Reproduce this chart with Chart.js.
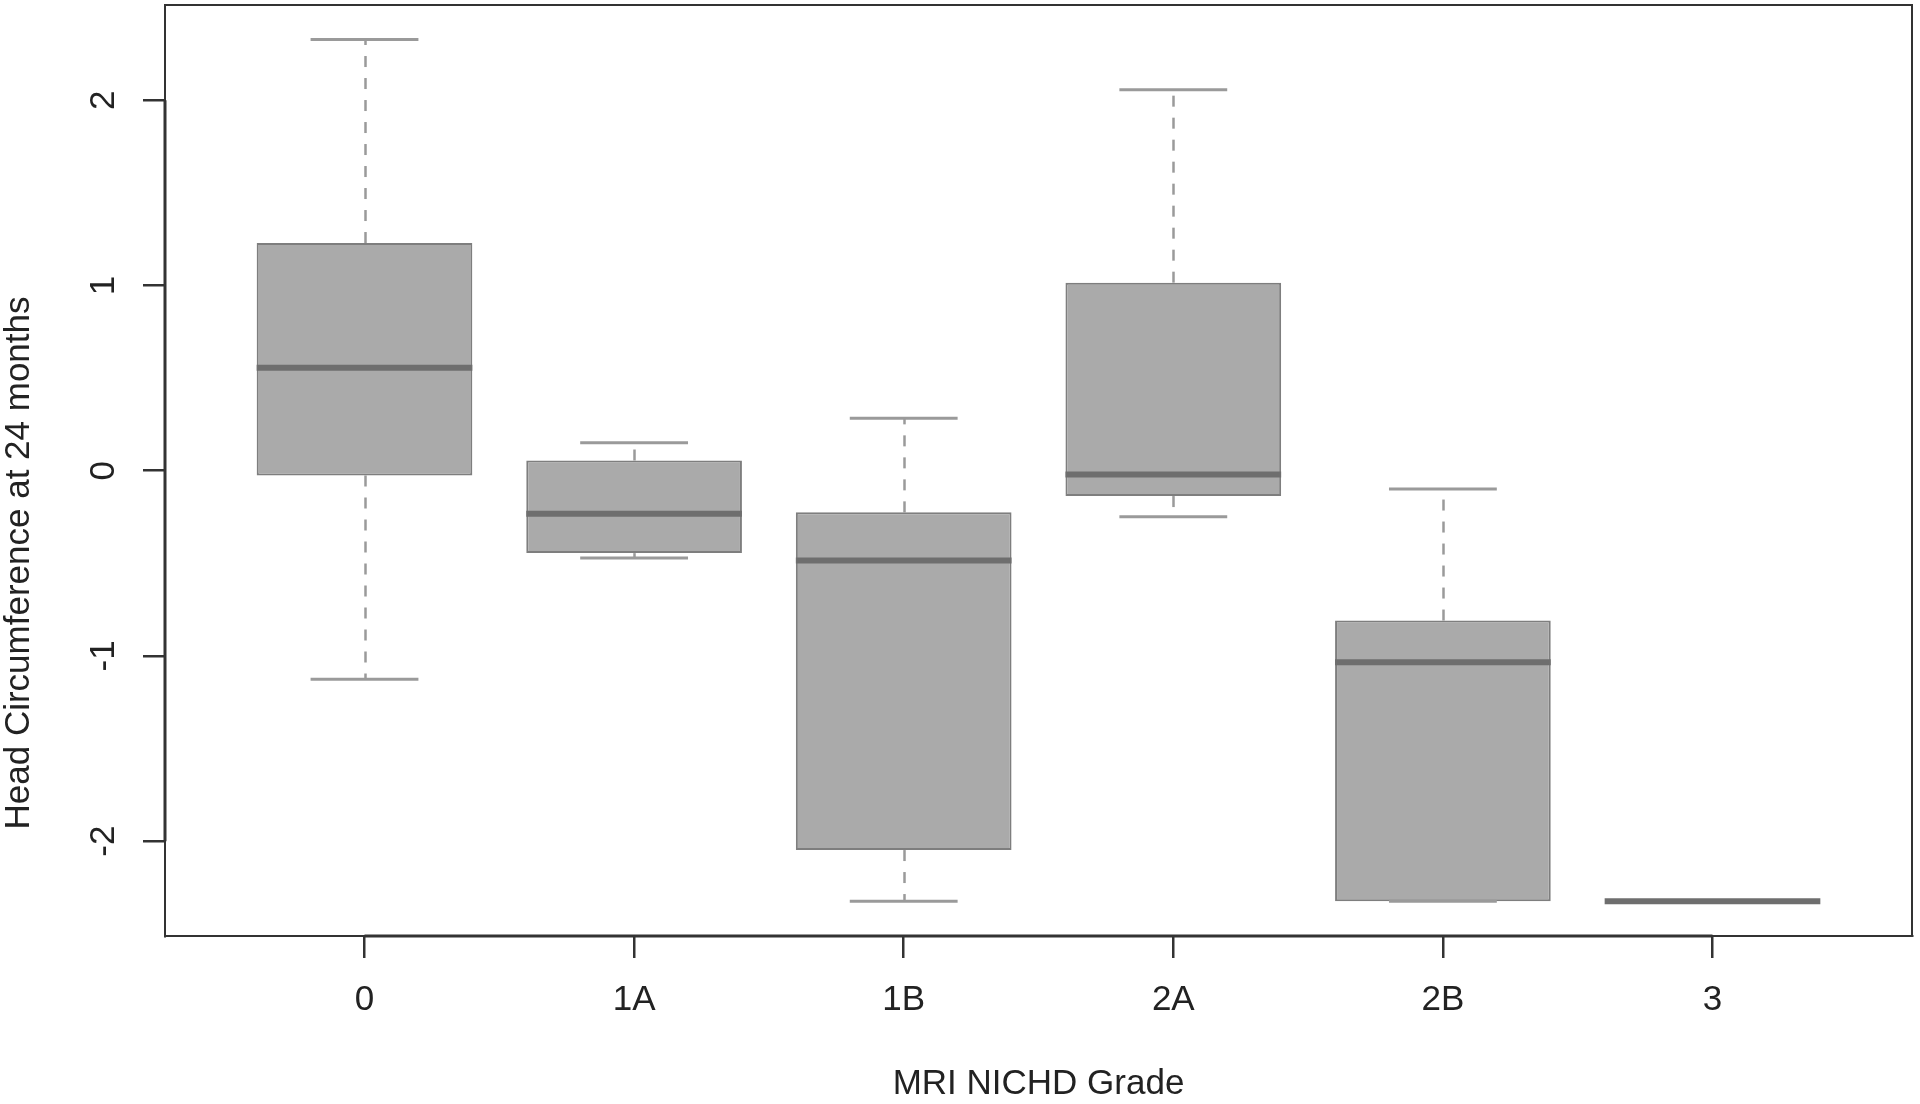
<!DOCTYPE html>
<html>
<head>
<meta charset="utf-8">
<script src="https://cdn.jsdelivr.net/npm/chart.js@4.4.1/dist/chart.umd.min.js"></script>
<style>
html,body{margin:0;padding:0;background:#fff;}
#wrap{width:1920px;height:1104px;position:relative;background:#fff;}
canvas{display:block;}
</style>
</head>
<body>
<div id="wrap"><canvas id="c" width="1920" height="1104"></canvas></div>
<script>
// ---- data ----
const categories  = ['0', '1A', '1B', '2A', '2B', '3'];
const whiskerLow  = [-1.126, -0.472, -2.325, -0.249, -2.325, -2.325];
const q1          = [-0.026, -0.445, -2.048, -0.137, -2.325, -2.325];
const median      = [ 0.556, -0.233, -0.485, -0.020, -1.034, -2.325];
const q3          = [ 1.229,  0.055, -0.225,  1.015, -0.809, -2.325];
const whiskerHigh = [ 2.328,  0.151,  0.283,  2.056, -0.099, -2.325];
const yTicks = [-2, -1, 0, 1, 2];
const yMin = -2.512, yMax = 2.514;
const xMin = 0.26, xMax = 6.74;
const xTitle = 'MRI NICHD Grade';
const yTitle = 'Head Circumference at 24 months';

const FONT = '"Liberation Sans", Arial, Helvetica, sans-serif';
const TEXT = '#222222';
const AXIS = '#333333';

const boxParts = {
  id: 'boxParts',
  beforeDatasetsDraw(chart) {
    const {ctx, scales: {x, y}} = chart;
    ctx.save();
    ctx.strokeStyle = '#9a9a9a';
    ctx.lineWidth = 2.5;
    ctx.setLineDash([11, 11]);
    categories.forEach((c, i) => {
      const px = Math.round(x.getPixelForValue(i + 1)) + 0.5;
      if (whiskerHigh[i] > q3[i]) {
        ctx.beginPath();
        ctx.moveTo(px, y.getPixelForValue(q3[i]));
        ctx.lineTo(px, y.getPixelForValue(whiskerHigh[i]));
        ctx.stroke();
      }
      if (whiskerLow[i] < q1[i]) {
        ctx.beginPath();
        ctx.moveTo(px, y.getPixelForValue(q1[i]));
        ctx.lineTo(px, y.getPixelForValue(whiskerLow[i]));
        ctx.stroke();
      }
    });
    ctx.restore();
  },
  afterDatasetsDraw(chart) {
    const {ctx, scales: {x, y}, chartArea} = chart;
    const meta = chart.getDatasetMeta(0);
    ctx.save();
    categories.forEach((c, i) => {
      const px = x.getPixelForValue(i + 1);
      const w = meta.data[i].width;
      // caps
      if (whiskerHigh[i] !== whiskerLow[i]) {
        ctx.strokeStyle = '#9a9a9a';
        ctx.lineWidth = 3;
        ctx.setLineDash([]);
        [whiskerHigh[i], whiskerLow[i]].forEach(v => {
          const py = y.getPixelForValue(v);
          ctx.beginPath();
          ctx.moveTo(px - w / 4, py);
          ctx.lineTo(px + w / 4, py);
          ctx.stroke();
        });
      }
      // median
      ctx.strokeStyle = '#6e6e6e';
      ctx.lineWidth = 6;
      const pm = y.getPixelForValue(median[i]);
      ctx.beginPath();
      ctx.moveTo(px - w / 2, pm);
      ctx.lineTo(px + w / 2, pm);
      ctx.stroke();
    });
    // frame
    ctx.strokeStyle = AXIS;
    ctx.lineWidth = 2;
    ctx.strokeRect(chartArea.left, chartArea.top, chartArea.right - chartArea.left, chartArea.bottom - chartArea.top);
    // R-style axis lines between first and last tick
    ctx.lineWidth = 3;
    ctx.beginPath();
    ctx.moveTo(x.getPixelForValue(1), chartArea.bottom);
    ctx.lineTo(x.getPixelForValue(categories.length), chartArea.bottom);
    ctx.moveTo(chartArea.left, y.getPixelForValue(yTicks[0]));
    ctx.lineTo(chartArea.left, y.getPixelForValue(yTicks[yTicks.length - 1]));
    ctx.stroke();
    // y title
    ctx.fillStyle = TEXT;
    ctx.font = '35px ' + FONT;
    ctx.textAlign = 'center';
    ctx.textBaseline = 'middle';
    ctx.translate(19, 563);
    ctx.rotate(-Math.PI / 2);
    ctx.fillText(yTitle, 0, 0);
    ctx.restore();
  }
};

const gridOpts = {
  display: true,
  offset: false,
  drawOnChartArea: false,
  drawTicks: true,
  tickLength: 22,
  color: AXIS,
  lineWidth: 2.5
};

new Chart(document.getElementById('c'), {
  type: 'bar',
  data: {
    datasets: [{
      data: categories.map((c, i) => ({x: i + 1, y: [q1[i], q3[i]]})),
      backgroundColor: '#aaaaaa',
      borderColor: '#7e7e7e',
      borderWidth: 2,
      borderSkipped: false,
      barPercentage: 0.8,
      categoryPercentage: 1
    }]
  },
  options: {
    responsive: false,
    animation: false,
    devicePixelRatio: 1,
    layout: {padding: {top: 5, right: 8, left: 0, bottom: 0}},
    plugins: {legend: {display: false}, tooltip: {enabled: false}},
    scales: {
      x: {
        type: 'linear',
        min: xMin,
        max: xMax,
        offset: false,
        afterBuildTicks: s => { s.ticks = categories.map((c, i) => ({value: i + 1})); },
        afterFit: s => { s.height = 168; s.paddingLeft = 0; s.paddingRight = 0; },
        ticks: {
          autoSkip: false, minRotation: 0, maxRotation: 0, padding: 21,
          color: TEXT, font: {family: FONT, size: 35},
          callback: v => (categories[Math.round(v) - 1] ?? '')
        },
        grid: gridOpts,
        border: {display: true, color: AXIS, width: 2},
        title: {
          display: true, text: xTitle, color: TEXT,
          font: {family: FONT, size: 35, lineHeight: 1.1},
          padding: {top: 0, bottom: 0}
        }
      },
      y: {
        type: 'linear',
        min: yMin,
        max: yMax,
        afterBuildTicks: s => { s.ticks = yTicks.map(v => ({value: v})); },
        afterFit: s => { s.width = 165; s.paddingTop = 0; s.paddingBottom = 0; },
        ticks: {
          minRotation: 90, maxRotation: 90, crossAlign: 'center', padding: 23,
          color: TEXT, font: {family: FONT, size: 35},
          callback: v => String(v)
        },
        grid: gridOpts,
        border: {display: true, color: AXIS, width: 2}
      }
    }
  },
  plugins: [boxParts]
});
</script>
</body>
</html>
